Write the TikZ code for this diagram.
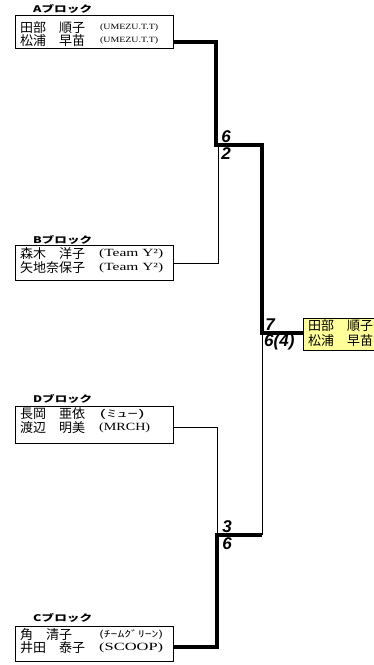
\documentclass[tikz,border=0pt]{standalone}
\usepackage{fontspec}
\usepackage{graphicx}
\newfontfamily\cjk{Noto Sans CJK JP}
\newfontfamily\ser{Liberation Serif}
\newfontfamily\scr{Liberation Sans}
\newcommand\fitw[2]{\resizebox{#1pt}{\height}{#2}}
\newcommand\fitwh[3]{\resizebox{#1pt}{#2pt}{#3}}
\definecolor{winfill}{HTML}{FFFF99}
\begin{document}
\begin{tikzpicture}[x=1pt,y=-1pt,
  box/.style={draw, line width=1.2pt, inner sep=0pt, anchor=north west, minimum width=158pt},
  nm/.style={anchor=west, inner sep=0pt, font=\cjk\fontsize{13}{13}\selectfont},
  tm/.style={anchor=west, inner sep=0pt},
  lbl/.style={anchor=west, inner sep=0pt},
  win/.style={line width=4pt, line join=miter},
  lose/.style={line width=1pt},
  sc/.style={inner sep=0pt, font=\scr\bfseries\itshape\fontsize{17}{17}\selectfont}]
\clip (0,0) rectangle (374,665);

% boxes
\node[box, minimum height=33pt] (a) at (15,15) {};
\node[box, minimum height=35pt] (b) at (15,245) {};
\node[box, minimum height=37pt] (d) at (15,406) {};
\node[box, minimum height=35pt] (c) at (15,626) {};
\node[box, fill=winfill, minimum width=90pt, minimum height=32pt] (w) at (303,318) {};

% block labels
\node[lbl] (la) at (33,9) {\fitwh{59}{8}{\cjk\bfseries Aブロック}};
\node[lbl] (lb) at (33,240) {\fitwh{59}{8}{\cjk\bfseries Bブロック}};
\node[lbl] (ld) at (33,399) {\fitwh{59}{8}{\cjk\bfseries Dブロック}};
\node[lbl] (lc) at (33,618) {\fitwh{59}{8}{\cjk\bfseries Cブロック}};

% names
\node[nm] (a1) at (20,28) {田部　順子};
\node[nm] (a2) at (20,41) {松浦　早苗};
\node[tm] (a1t) at (100,28) {\fitw{58}{\ser\fontsize{8}{8}\selectfont (UMEZU.T.T)}};
\node[tm] (a2t) at (100,41) {\fitw{58}{\ser\fontsize{8}{8}\selectfont (UMEZU.T.T)}};

\node[nm] (b1) at (20,254) {森木　洋子};
\node[nm] (b2) at (20,268) {矢地奈保子};
\node[tm] (b1t) at (99,254) {\fitw{64}{\ser\fontsize{11}{11}\selectfont (Team Y²)}};
\node[tm] (b2t) at (99,268) {\fitw{64}{\ser\fontsize{11}{11}\selectfont (Team Y²)}};

\node[nm] (d1) at (20,414) {長岡　亜依};
\node[nm] (d2) at (20,428) {渡辺　明美};
\node[tm] (d1t) at (99,414) {\fitw{46}{\cjk\fontsize{10}{10}\selectfont (ﾐｭｰ)}};
\node[tm] (d2t) at (99,428) {\fitw{51}{\ser\fontsize{11}{11}\selectfont (MRCH)}};

\node[nm] (c1) at (20,635) {角　清子};
\node[nm] (c2) at (20,648) {井田　泰子};
\node[tm] (c1t) at (99,635) {\fitw{64}{\cjk\fontsize{9}{9}\selectfont (ﾁｰﾑｸﾞﾘｰﾝ)}};
\node[tm] (c2t) at (99,648) {\fitw{64}{\ser\fontsize{11}{11}\selectfont (SCOOP)}};

\node[nm] (w1) at (308,326) {田部　順子};
\node[nm] (w2) at (308,341) {松浦　早苗};

% junctions
\coordinate (ay) at (216,42);
\coordinate (by) at (218,263);
\coordinate (dy) at (217,427);
\coordinate (cy) at (217,647);
\coordinate (j1) at (216,145);
\coordinate (j2) at (262,145);
\coordinate (j3) at (262,333);
\coordinate (j4) at (217,535);
\coordinate (j5) at (262,535);

% connectors
\draw[lose] (b.east |- by) -- (by) -- (by |- j1);
\draw[lose] (d.east |- dy) -- (dy) -- (dy |- j4);
\draw[lose] (j5) -- (j3);
\draw[win] (a.east |- ay) -- (ay) -- (j1) -- (j2) -- (j3) -- (w.west |- j3);
\draw[win] (c.east |- cy) -- (cy) -- (j4) -- (j5);

% scores
\node[sc] (s1) at (226,137) {6};
\node[sc] (s2) at (226,154) {2};
\node[sc] (s3) at (227,527) {3};
\node[sc] (s4) at (227,544) {6};
\node[sc] (s5) at (270,325) {7};
\node[sc, anchor=west] (s6) at (264,342) {6(4)};
\end{tikzpicture}
\end{document}
